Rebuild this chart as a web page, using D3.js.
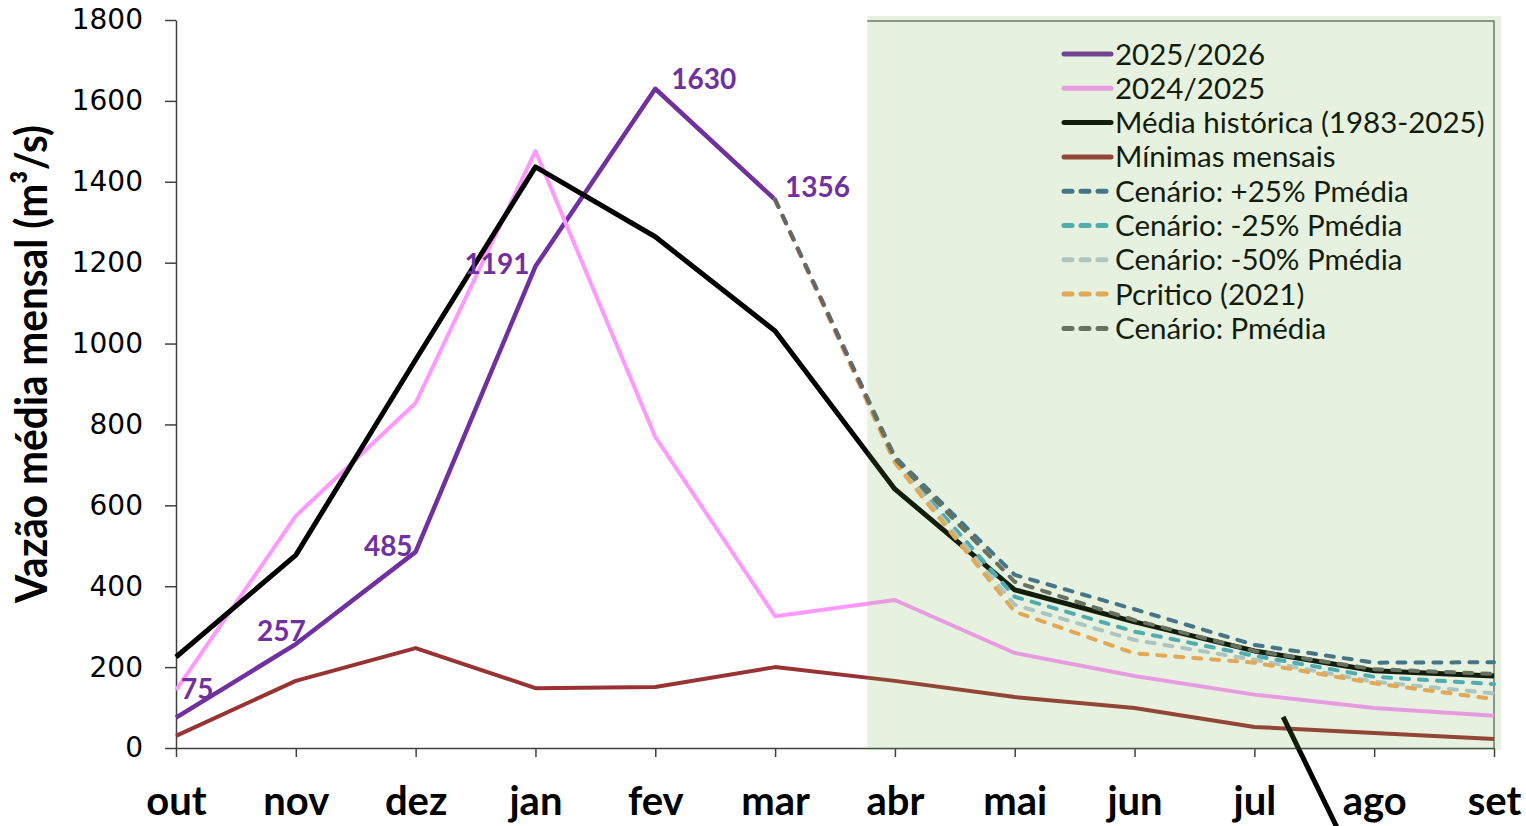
<!DOCTYPE html>
<html>
<head>
<meta charset="utf-8">
<script src="https://cdn.jsdelivr.net/npm/d3@7"></script>
<style>
  html, body { margin: 0; padding: 0; background: #ffffff; }
  svg { display: block; }
</style>
</head>
<body>
<svg id="chart" width="1526" height="826"></svg>
<script>
// Vazão média mensal — ano hidrológico (out–set)
const months = ["out", "nov", "dez", "jan", "fev", "mar", "abr", "mai", "jun", "jul", "ago", "set"];
const yTicks = [0, 200, 400, 600, 800, 1000, 1200, 1400, 1600, 1800];

const ano2526 = [75, 257, 485, 1191, 1630, 1356, null, null, null, null, null, null];
const ano2425 = [143, 574, 853, 1476, 769, 326, 366, 235, 178, 132, 99, 80];
const mediaHist = [225, 477, 960, 1437, 1264, 1031, 640, 391, 312, 240, 191, 178];
const minimas = [30, 166, 247, 148, 151, 200, 166, 126, 99, 52, 37, 22];

const cenMais25 = [null, null, null, null, null, 1356, 720, 428, 343, 255, 211, 212];
const cenMenos25 = [null, null, null, null, null, 1356, 712, 374, 288, 228, 176, 158];
const cenMenos50 = [null, null, null, null, null, 1356, 708, 354, 267, 218, 164, 135];
const pCritico = [null, null, null, null, null, 1356, 705, 337, 234, 211, 160, 121];
const cenPmedia = [null, null, null, null, null, 1356, 715, 411, 316, 240, 195, 183];

const seriesNames = [
  "2025/2026", "2024/2025", "Média histórica (1983-2025)", "Mínimas mensais",
  "Cenário: +25% Pmédia", "Cenário: -25% Pmédia", "Cenário: -50% Pmédia",
  "Pcritico (2021)", "Cenário: Pmédia"
];
const seriesValues = [ano2526, ano2425, mediaHist, minimas, cenMais25, cenMenos25, cenMenos50, pCritico, cenPmedia];
const seriesStyle = [
  { color: "#7030A0", width: 4.5, dash: null },
  { color: "#FF99FF", width: 4,   dash: null },
  { color: "#000000", width: 5,   dash: null },
  { color: "#993333", width: 4,   dash: null },
  { color: "#3F6A96", width: 4,   dash: "8,10" },
  { color: "#4BACC6", width: 4,   dash: "8,10" },
  { color: "#B9CBD9", width: 4,   dash: "8,10" },
  { color: "#F9A85A", width: 4,   dash: "8,10" },
  { color: "#666666", width: 4,   dash: "8,10" }
];

// period highlighted as forecast (abr → set), in category units
const forecastSpan = [5.77, 11.06];
// annotation stroke near jul/ago, in (category index, value)
const pointer = [[9.24, 77], [9.72, -215]];

const svg = d3.select("#chart");
const x = d3.scalePoint().domain(months).range([176, 1494]);
const y = d3.scaleLinear().domain([0, 1800]).range([748, 20]);
const xi = d3.scaleLinear().domain([0, months.length - 1]).range([176, 1494]);

const sans = "Lato, 'Open Sans', sans-serif";

// axes
const yAxis = svg.append("g")
  .attr("transform", "translate(176,0)")
  .call(d3.axisLeft(y).tickValues(yTicks).tickSize(11).tickPadding(22).tickSizeOuter(0).tickFormat(d3.format("d")));
yAxis.select(".domain").attr("stroke", "#404040").attr("stroke-width", 1.5);
yAxis.selectAll(".tick line").attr("stroke", "#404040").attr("stroke-width", 1.5);
yAxis.selectAll(".tick text")
  .attr("fill", "#000")
  .style("font-family", "'DejaVu Sans', Verdana, sans-serif")
  .style("font-size", "28px");

const xAxis = svg.append("g")
  .attr("transform", "translate(0,748)")
  .call(d3.axisBottom(x).tickSize(9).tickSizeOuter(0));
xAxis.select(".domain").attr("stroke", "#404040").attr("stroke-width", 1.5);
xAxis.selectAll(".tick line").attr("stroke", "#404040").attr("stroke-width", 1.5);
xAxis.selectAll(".tick text")
  .attr("y", 67).attr("dy", 0)
  .attr("fill", "#000")
  .style("font-family", sans)
  .style("font-weight", "bold")
  .style("font-size", "40px");

// y axis title
svg.append("text")
  .attr("transform", "translate(47,364) rotate(-90)")
  .attr("text-anchor", "middle")
  .attr("textLength", 478)
  .attr("lengthAdjust", "spacingAndGlyphs")
  .style("font-family", sans)
  .style("font-weight", "bold")
  .style("font-size", "44px")
  .attr("fill", "#000")
  .text("Vazão média mensal (m³/s)");

// forecast frame lines (top and right)
const fx0 = xi(forecastSpan[0]);
svg.append("path")
  .attr("d", `M${fx0},${y(1800) + 1}H${x("set")}V${y(0)}`)
  .attr("fill", "none")
  .attr("stroke", "#6e6e6e")
  .attr("stroke-width", 1.5);

// series lines
const line = d3.line()
  .defined(d => d != null)
  .x((d, i) => x(months[i]))
  .y(d => y(d));

seriesValues.forEach((vals, k) => {
  const st = seriesStyle[k];
  svg.append("path")
    .datum(vals)
    .attr("d", line)
    .attr("fill", "none")
    .attr("stroke", st.color)
    .attr("stroke-width", st.width)
    .attr("stroke-linejoin", "round")
    .attr("stroke-linecap", st.dash ? "round" : "butt")
    .attr("stroke-dasharray", st.dash);
});

// data labels for 2025/2026
const labelPlace = {
  out: { anchor: "start", dx: 5,  dy: -19 },
  nov: { anchor: "end",   dx: 10, dy: -3 },
  dez: { anchor: "end",   dx: -3, dy: 4 },
  jan: { anchor: "end",   dx: -6, dy: 8 },
  fev: { anchor: "start", dx: 16, dy: 0 },
  mar: { anchor: "start", dx: 10, dy: -3 }
};
svg.append("g").selectAll("text")
  .data(ano2526.map((v, i) => ({ m: months[i], v })).filter(d => d.v != null))
  .join("text")
  .attr("x", d => x(d.m) + labelPlace[d.m].dx)
  .attr("y", d => y(d.v) + labelPlace[d.m].dy)
  .attr("text-anchor", d => labelPlace[d.m].anchor)
  .style("font-family", sans)
  .style("font-weight", "bold")
  .style("font-size", "28px")
  .attr("fill", "#7030A0")
  .text(d => d.v);

// legend
const legend = svg.append("g").attr("transform", "translate(1062,54)");
seriesNames.forEach((name, k) => {
  const st = seriesStyle[k];
  const g = legend.append("g").attr("transform", `translate(0,${k * 34.3})`);
  g.append("line")
    .attr("x1", 2).attr("x2", 49).attr("y1", 0).attr("y2", 0)
    .attr("stroke", st.color)
    .attr("stroke-width", 5)
    .attr("stroke-linecap", "round")
    .attr("stroke-dasharray", st.dash ? "8,9" : null);
  g.append("text")
    .attr("x", 53).attr("y", 10.5)
    .style("font-family", sans)
    .style("font-size", "29.5px")
    .attr("fill", "#000")
    .text(name);
});

// annotation stroke
svg.append("line")
  .attr("x1", xi(pointer[0][0])).attr("y1", y(pointer[0][1]))
  .attr("x2", xi(pointer[1][0])).attr("y2", y(pointer[1][1]))
  .attr("stroke", "#000")
  .attr("stroke-width", 5);

// translucent green band over the forecast months
svg.append("rect")
  .attr("x", fx0)
  .attr("y", y(1800) - 4)
  .attr("width", xi(forecastSpan[1]) - fx0)
  .attr("height", y(0) + 2 - (y(1800) - 4))
  .attr("fill", "#70AD47")
  .attr("fill-opacity", 0.17);
</script>
</body>
</html>
